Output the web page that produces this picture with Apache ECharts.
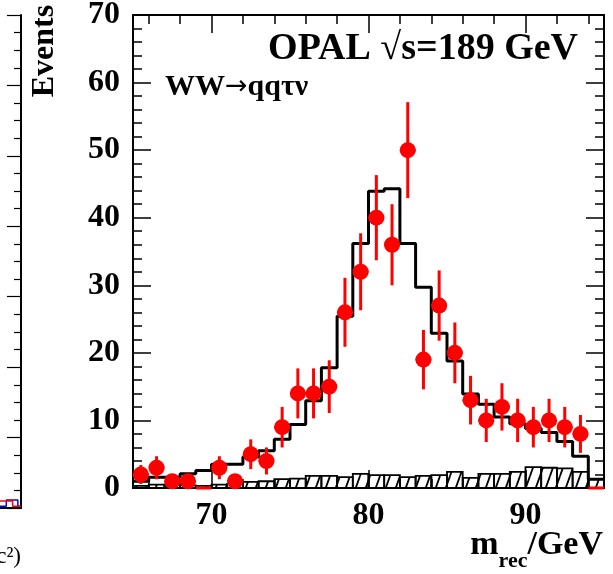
<!DOCTYPE html>
<html>
<head>
<meta charset="utf-8">
<script src="https://cdn.jsdelivr.net/npm/echarts@6/dist/echarts.min.js"></script>
<style>
html,body{margin:0;padding:0;background:#fff;}
#chart{width:613px;height:574px;}
</style>
</head>
<body>
<div id="chart"></div>
<script>
// ---- data ----
const binCenters = [65.5,66.5,67.5,68.5,69.5,70.5,71.5,72.5,73.5,74.5,75.5,76.5,77.5,78.5,79.5,
                    80.5,81.5,82.5,83.5,84.5,85.5,86.5,87.5,88.5,89.5,90.5,91.5,92.5,93.5,94.5];
const dataCounts = [2,3,1,1,0,3,1,5,4,9,14,14,15,26,32,40,36,50,19,27,20,13,10,12,10,9,10,9,8,0];
const dataErrors = [1.4,1.7,1,1,0,1.7,1,2.2,2,3,3.7,3.7,3.9,5.1,5.7,6.3,6,7.1,4.4,5.2,4.5,3.6,3.2,3.5,3.2,3,3.2,3,2.8,0];
const mcTotal = [1.0,1.6,1.6,2.1,2.6,3.5,3.5,4.6,5.5,7.2,9.4,12.9,17.8,25.4,36.2,43.9,44.3,36.2,29.7,22.9,
                 18.8,13.9,12.4,10.5,9.5,8.8,8.2,6.9,4.7,1.3];
const mcBackground = [0.3,0.5,0.5,0.4,0.3,0.5,0.6,0.9,1.0,1.3,1.4,1.8,1.8,1.6,2.1,1.9,1.9,1.6,1.8,1.9,
                      2.4,1.5,2.1,2.1,2.4,3.1,3.0,2.9,2.4,1.3];
const binWidth = 1;
const xMajorTicks = [70,80,90];
const xMinorTicks = [66,68,72,74,76,78,82,84,86,88,92,94];
// fragment of the neighbouring (cut-off) panel on the left
const leftPanelX = [0.0, 0.3, 0.6, 0.85, 1.0];
const leftPanelBlue = [0.1, 0.45, 0.45, 0.1, 0.1];
const leftPanelRed = [0.4, 0.4, 0.1, 0.1, 0.1];

// ---- helpers ----
const FONT = '"Liberation Serif", "Times New Roman", serif';
function makeHatch() {
  const c = document.createElement('canvas');
  const w = 10, h = 28;
  c.width = w; c.height = h;
  const g = c.getContext('2d');
  g.strokeStyle = '#000';
  g.lineWidth = 1.8;
  for (let k = -1; k <= 1; k++) {
    g.beginPath();
    g.moveTo(0 + k * w, h);
    g.lineTo(w + k * w, 0);
    g.stroke();
  }
  return c;
}
const hatch = makeHatch();

const mcStep = binCenters.map((c, i) => [c - binWidth / 2, mcTotal[i]]);
mcStep.push([binCenters[binCenters.length - 1] + binWidth / 2, mcTotal[mcTotal.length - 1]]);

const bkgData = binCenters.map((c, i) => [c, mcBackground[i]]);
const errData = binCenters.map((c, i) => [c, dataCounts[i], dataErrors[i]]);
const ptsData = binCenters.map((c, i) => [c, dataCounts[i]]).filter(d => d[1] > 0);

const chart = echarts.init(document.getElementById('chart'), null, {renderer: 'canvas'});

const axisLineStyle = {color: '#000', width: 2};
const labelStyle = {color: '#000', fontFamily: FONT, fontWeight: 'bold', fontSize: 32};

const option = {
  animation: false,
  backgroundColor: '#fff',
  grid: [
    {left: 133, right: 9, top: 15, bottom: 86, containLabel: false, outerBoundsMode: 'none'},
    {left: 133, right: 9, top: 15, bottom: 86, containLabel: false, outerBoundsMode: 'none'},
    {left: 0, width: 21, top: 15, bottom: 66, containLabel: false, outerBoundsMode: 'none'}
  ],
  xAxis: [
    {gridIndex: 0, type: 'value', min: 65, max: 95, position: 'bottom',
     axisLine: {show: true, onZero: false, lineStyle: axisLineStyle},
     axisTick: {show: true, inside: true, length: 18, customValues: xMajorTicks, lineStyle: {color: '#000', width: 1.5}},
     axisLabel: {show: true, customValues: xMajorTicks, margin: 12, ...labelStyle},
     splitLine: {show: false}},
    {gridIndex: 0, type: 'value', min: 65, max: 95, position: 'top',
     axisLine: {show: true, onZero: false, lineStyle: axisLineStyle},
     axisTick: {show: true, inside: true, length: 18, customValues: xMajorTicks, lineStyle: {color: '#000', width: 1.5}},
     axisLabel: {show: false, customValues: xMajorTicks},
     splitLine: {show: false}},
    {gridIndex: 1, type: 'value', min: 65, max: 95, position: 'bottom',
     axisLine: {show: false, onZero: false},
     axisTick: {show: true, inside: true, length: 9, customValues: xMinorTicks, lineStyle: {color: '#000', width: 1.5}},
     axisLabel: {show: false, customValues: xMinorTicks},
     splitLine: {show: false}},
    {gridIndex: 1, type: 'value', min: 65, max: 95, position: 'top',
     axisLine: {show: false, onZero: false},
     axisTick: {show: true, inside: true, length: 9, customValues: xMinorTicks, lineStyle: {color: '#000', width: 1.5}},
     axisLabel: {show: false, customValues: xMinorTicks},
     splitLine: {show: false}},
    {gridIndex: 2, type: 'value', min: 0, max: 1, position: 'bottom',
     axisLine: {show: true, onZero: false, lineStyle: axisLineStyle},
     axisTick: {show: false}, axisLabel: {show: false}, splitLine: {show: false}}
  ],
  yAxis: [
    {gridIndex: 0, type: 'value', min: 0, max: 70, interval: 10, position: 'left',
     axisLine: {show: true, onZero: false, lineStyle: axisLineStyle},
     axisTick: {show: true, inside: true, length: 18, lineStyle: {color: '#000', width: 1.5}},
     minorTick: {show: true, splitNumber: 5, length: 9, lineStyle: {color: '#000', width: 1.5}},
     axisLabel: {show: true, margin: 13, ...labelStyle},
     splitLine: {show: false}},
    {gridIndex: 0, type: 'value', min: 0, max: 70, interval: 10, position: 'right',
     axisLine: {show: true, onZero: false, lineStyle: axisLineStyle},
     axisTick: {show: true, inside: true, length: 18, lineStyle: {color: '#000', width: 1.5}},
     minorTick: {show: true, splitNumber: 5, length: 9, lineStyle: {color: '#000', width: 1.5}},
     axisLabel: {show: false},
     splitLine: {show: false}},
    {gridIndex: 1, type: 'value', min: 0, max: 70, show: false},
    {gridIndex: 2, type: 'value', min: 0, max: 28, interval: 4, position: 'right',
     axisLine: {show: true, onZero: false, lineStyle: axisLineStyle},
     axisTick: {show: true, inside: true, length: 14, lineStyle: {color: '#000', width: 1.2}},
     minorTick: {show: true, splitNumber: 4, length: 7, lineStyle: {color: '#000', width: 1.2}},
     axisLabel: {show: false}, splitLine: {show: false}}
  ],
  series: [
    {
      name: 'MC total', type: 'line', xAxisIndex: 0, yAxisIndex: 0,
      data: mcStep, step: 'end', symbol: 'none', z: 2,
      lineStyle: {color: '#000', width: 3}
    },
    {
      name: 'Background', type: 'custom', xAxisIndex: 0, yAxisIndex: 0, z: 3,
      data: bkgData,
      renderItem: function (params, api) {
        const c = api.value(0), v = api.value(1);
        const p0 = api.coord([c - binWidth / 2, v]);
        const p1 = api.coord([c + binWidth / 2, 0]);
        return {
          type: 'rect',
          shape: {x: p0[0], y: p0[1], width: p1[0] - p0[0], height: p1[1] - p0[1]},
          style: {fill: {image: hatch, repeat: 'repeat'}, stroke: '#000', lineWidth: 1.8}
        };
      }
    },
    {
      name: 'Data errors', type: 'custom', xAxisIndex: 0, yAxisIndex: 0, z: 4,
      data: errData,
      renderItem: function (params, api) {
        const c = api.value(0), v = api.value(1), e = api.value(2);
        const top = api.coord([c, v + e]);
        const bot = api.coord([c, v - e]);
        const l = api.coord([c - binWidth / 2, v]);
        const r = api.coord([c + binWidth / 2, v]);
        const st = {stroke: '#ff0000', lineWidth: 3};
        return {
          type: 'group',
          children: [
            {type: 'line', shape: {x1: top[0], y1: top[1], x2: bot[0], y2: bot[1]}, style: st},
            {type: 'line', shape: {x1: l[0], y1: l[1], x2: r[0], y2: r[1]}, style: st}
          ]
        };
      }
    },
    {
      name: 'Data', type: 'scatter', xAxisIndex: 0, yAxisIndex: 0, z: 5,
      data: ptsData, symbol: 'circle', symbolSize: 16,
      itemStyle: {color: '#ff0000', opacity: 1}
    },
    {
      name: 'left blue', type: 'line', xAxisIndex: 4, yAxisIndex: 3, z: 2,
      data: leftPanelX.map((x, i) => [x, leftPanelBlue[i]]), step: 'end', symbol: 'none',
      lineStyle: {color: '#0000ff', width: 1.5}
    },
    {
      name: 'left red', type: 'line', xAxisIndex: 4, yAxisIndex: 3, z: 2,
      data: leftPanelX.map((x, i) => [x, leftPanelRed[i]]), step: 'end', symbol: 'none',
      lineStyle: {color: '#ff0000', width: 1.5}
    }
  ],
  graphic: [
    {type: 'text', x: 578, y: 49, z: 10,
     style: {text: 'OPAL \u221As=189 GeV', fill: '#000', font: 'bold 38px ' + FONT,
             textAlign: 'right', textVerticalAlign: 'middle'}},
    {type: 'text', x: 165, y: 87, z: 10,
     style: {
       text: '{a|WW}{b|\u2192}{a|qq\u03C4\u03BD}', textAlign: 'left', textVerticalAlign: 'middle',
       rich: {
         a: {fontFamily: FONT, fontWeight: 'bold', fontSize: 30, fill: '#000'},
         b: {fontFamily: '"DejaVu Sans", sans-serif', fontWeight: 'normal', fontSize: 27, fill: '#000'}
       }
     }},
    {type: 'text', x: 45, y: 51, rotation: Math.PI / 2, z: 10,
     style: {text: 'Events', fill: '#000', font: 'bold 32px ' + FONT,
             textAlign: 'center', textVerticalAlign: 'middle'}},
    {type: 'text', x: 603, y: 572, z: 10,
     style: {
       text: '{m|m}{s|rec}{m|/GeV}', textAlign: 'right', textVerticalAlign: 'bottom',
       rich: {
         m: {fontFamily: FONT, fontWeight: 'bold', fontSize: 34, fill: '#000', lineHeight: 44, verticalAlign: 'top'},
         s: {fontFamily: FONT, fontWeight: 'bold', fontSize: 22, fill: '#000', lineHeight: 22, verticalAlign: 'bottom'}
       }
     }},
    {type: 'text', x: 21, y: 557, z: 10,
     style: {text: '(GeV/c\u00B2)', fill: '#000', font: '23px ' + FONT,
             textAlign: 'right', textVerticalAlign: 'middle'}}
  ]
};
chart.setOption(option);
</script>
</body>
</html>
